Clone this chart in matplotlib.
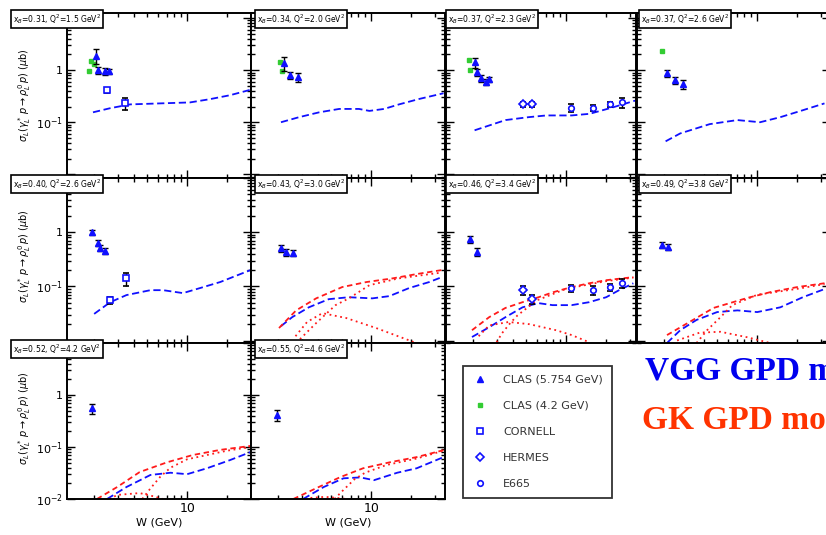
import matplotlib
matplotlib.use("Agg")
import matplotlib.pyplot as plt
from matplotlib.ticker import FuncFormatter, LogLocator, NullFormatter
from matplotlib.lines import Line2D

# ---------------- data ----------------
PANEL_LABELS = [
    "x$_B$=0.31, Q$^2$=1.5 GeV$^2$", "x$_B$=0.34, Q$^2$=2.0 GeV$^2$",
    "x$_B$=0.37, Q$^2$=2.3 GeV$^2$", "x$_B$=0.37, Q$^2$=2.6 GeV$^2$",
    "x$_B$=0.40, Q$^2$=2.6 GeV$^2$", "x$_B$=0.43, Q$^2$=3.0 GeV$^2$",
    "x$_B$=0.46, Q$^2$=3.4 GeV$^2$", "x$_B$=0.49, Q$^2$=3.8 GeV$^2$",
    "x$_B$=0.52, Q$^2$=4.2 GeV$^2$", "x$_B$=0.55, Q$^2$=4.6 GeV$^2$",
]

# VGG GPD model (blue dashed)
VGG_W = [
    [1.96, 2.64, 3.73, 6.27, 10.5, 14.8, 21, 31],
    [2.1, 2.87, 4.07, 5.75, 8.1, 9.7, 12.5, 16.2, 23, 35],
    [2.05, 3.5, 5.2, 7.1, 11, 15, 22, 33],
    [2.05, 2.64, 4.4, 7.1, 10.5, 14.9, 22, 32],
    [2.0, 2.64, 3.5, 5.3, 6.6, 9.3, 12.5, 17.7, 30],
    [2.1, 2.55, 3.4, 4.8, 6.8, 10.2, 13.7, 19.3, 27.3, 34],
    [1.96, 2.64, 3.5, 4.7, 6.2, 7.9, 11, 14.9, 20, 25, 32],
    [2.1, 2.64, 3.5, 5.0, 7.1, 10, 14.9, 22, 32],
    [2.5, 3.5, 5.3, 7.5, 10, 14.1, 21, 30],
    [3.08, 4.4, 6.2, 8.3, 10.5, 15.7, 22, 34],
]
VGG_S = [
    [0.155, 0.186, 0.22, 0.23, 0.24, 0.277, 0.33, 0.43],
    [0.1, 0.125, 0.155, 0.18, 0.18, 0.165, 0.18, 0.22, 0.28, 0.36],
    [0.07, 0.11, 0.125, 0.135, 0.135, 0.145, 0.19, 0.26],
    [0.043, 0.061, 0.092, 0.11, 0.1, 0.125, 0.17, 0.23],
    [0.031, 0.051, 0.069, 0.085, 0.085, 0.075, 0.093, 0.12, 0.2],
    [0.0184, 0.027, 0.041, 0.058, 0.063, 0.06, 0.066, 0.093, 0.12, 0.148],
    [0.0116, 0.0176, 0.027, 0.041, 0.049, 0.045, 0.045, 0.051, 0.063, 0.085, 0.114],
    [0.009, 0.0155, 0.024, 0.0335, 0.036, 0.0335, 0.041, 0.063, 0.089],
    [0.01, 0.017, 0.029, 0.032, 0.03, 0.039, 0.056, 0.08],
    [0.01, 0.017, 0.025, 0.026, 0.023, 0.032, 0.039, 0.062],
]

# GK GPD model (red): total, sea/gluon part, valence part  (panels 5..9 only)
GK_TOT_W = {5: [2.03, 2.73, 3.86, 6.06, 9.2, 14.4, 21.8, 34],
            6: [1.96, 2.64, 3.5, 4.7, 6.2, 8.0, 11, 14.9, 20, 32],
            7: [2.1, 3.0, 4.7, 8.4, 12.5, 20, 32],
            8: [2.1, 2.98, 4.4, 7.1, 11, 17.7, 30],
            9: [2.6, 3.9, 5.85, 8.7, 13.9, 22, 35]}
GK_TOT_S = {5: [0.017, 0.036, 0.06, 0.097, 0.12, 0.14, 0.168, 0.2],
            6: [0.0155, 0.027, 0.04, 0.051, 0.063, 0.078, 0.097, 0.114, 0.13, 0.148],
            7: [0.0126, 0.021, 0.04, 0.061, 0.078, 0.097, 0.114],
            8: [0.01, 0.017, 0.033, 0.051, 0.07, 0.088, 0.105],
            9: [0.01, 0.0163, 0.0263, 0.039, 0.051, 0.064, 0.087]}
GK_SEA_W = {5: [2.73, 3.86, 5.4, 6.8, 9.7, 16, 34],
            6: [3.0, 3.3, 3.8, 4.3, 6, 10, 20, 32],
            7: [3.5, 4.2, 5.3, 6.5, 10, 20, 32],
            8: [4.6, 5.3, 6.3, 7.5, 10, 20, 30],
            9: [5.3, 6.2, 7.5, 9, 13, 22, 35]}
GK_SEA_S = {5: [0.009, 0.021, 0.045, 0.06, 0.105, 0.14, 0.18],
            6: [0.0093, 0.0137, 0.021, 0.029, 0.055, 0.09, 0.125, 0.145],
            7: [0.009, 0.0155, 0.027, 0.045, 0.07, 0.09, 0.11],
            8: [0.01, 0.016, 0.027, 0.04, 0.058, 0.085, 0.1],
            9: [0.01, 0.015, 0.024, 0.032, 0.045, 0.06, 0.085]}
GK_VAL_W = {5: [2.7, 3.3, 4.3, 6.5, 10.9, 21.8, 30],
            6: [2.2, 2.64, 3.7, 5.3, 8.4, 11, 14.9],
            7: [2.5, 3.7, 5.3, 8.4, 12.5],
            8: [2.6, 3.0, 4.4, 5.8, 7.0],
            9: [3.5, 4.5, 5.5, 6.5]}
GK_VAL_S = {5: [0.012, 0.022, 0.032, 0.026, 0.017, 0.009, 0.007],
            6: [0.012, 0.019, 0.022, 0.02, 0.0155, 0.0126, 0.0093],
            7: [0.01, 0.014, 0.0145, 0.0115, 0.009],
            8: [0.01, 0.012, 0.013, 0.011, 0.0095],
            9: [0.0105, 0.011, 0.0105, 0.01]}

# CLAS 5.754 GeV
CLAS_W = {0: [2.05, 2.15, 2.4, 2.6], 1: [2.2, 2.47, 2.8],
          2: [2.05, 2.15, 2.3, 2.5, 2.65], 3: [2.1, 2.4, 2.75],
          4: [1.93, 2.15, 2.2, 2.4], 5: [2.1, 2.3, 2.6], 6: [1.9, 2.15],
          7: [1.93, 2.15], 8: [1.93], 9: [1.96]}
CLAS_S = {0: [1.9, 1.0, 0.95, 0.95], 1: [1.36, 0.8, 0.73],
          2: [1.42, 0.92, 0.7, 0.59, 0.67], 3: [0.87, 0.64, 0.54],
          4: [1.0, 0.63, 0.51, 0.45], 5: [0.51, 0.43, 0.41], 6: [0.74, 0.43],
          7: [0.58, 0.53], 8: [0.56], 9: [0.41]}
CLAS_E = {0: [0.6, 0.15, 0.15, 0.1], 1: [0.4, 0.12, 0.15],
          2: [0.3, 0.15, 0.1, 0.08, 0.08], 3: [0.12, 0.1, 0.1],
          4: [0.12, 0.08, 0.06, 0.06], 5: [0.08, 0.06, 0.05], 6: [0.1, 0.07],
          7: [0.08, 0.07], 8: [0.12], 9: [0.1]}
# CLAS 4.2 GeV
CLAS42_W = {0: [1.82, 1.88, 2.0], 1: [2.05, 2.15], 2: [1.85, 1.9], 3: [1.93]}
CLAS42_S = {0: [0.95, 1.5, 1.3], 1: [1.42, 0.96], 2: [1.56, 1.0], 3: [2.3]}
# CORNELL
CORNELL_W = {0: [2.5, 3.4], 4: [2.64, 3.5]}
CORNELL_S = {0: [0.41, 0.23], 4: [0.056, 0.14]}
CORNELL_E = {0: [0.04, 0.06], 4: [0.008, 0.04]}
# HERMES
HERMES_W = {2: [4.7, 5.55], 6: [4.7, 5.55]}
HERMES_S = {2: [0.22, 0.22], 6: [0.085, 0.058]}
HERMES_E = {2: [0.025, 0.025], 6: [0.015, 0.01]}
# E665
E665_W = {2: [10.9, 15.9, 21.4, 26.3], 6: [10.9, 15.9, 21.4, 26.3]}
E665_S = {2: [0.19, 0.19, 0.22, 0.24], 6: [0.093, 0.085, 0.097, 0.114]}
E665_E = {2: [0.03, 0.025, 0.02, 0.05], 6: [0.015, 0.015, 0.015, 0.02]}

LEGEND_LABELS = ["CLAS (5.754 GeV)", "CLAS (4.2 GeV)", "CORNELL", "HERMES", "E665"]

# ---------------- layout ----------------
FW, FH = 826, 535
COLS = [(67, 251), (251, 445), (446, 636), (637, 830)]
ROWS = [(13, 178), (178, 343), (343, 499)]
YLIMS = [(0.0085, 12.5), (0.009, 10), (0.01, 10)]
XMIN = 1.25
XMAX = [30.2, 35.9, 33.5, 35.2]
LABEL_BOX_X = [13, 257, 448, 641]
YLABEL_Y = [95, 256, 418]

BLUE = "#1010ff"
RED = "#ff1a1a"
GREEN = "#33cc33"

plt.rcParams["font.family"] = ["DejaVu Sans"]
fig = plt.figure(figsize=(FW / 100, FH / 100), dpi=100)

PANELS = [(0, 0), (0, 1), (0, 2), (0, 3), (1, 0), (1, 1), (1, 2), (1, 3), (2, 0), (2, 1)]


def yfmt_factory(row):
    def f(v, pos):
        if abs(v - 1) < 1e-9:
            return "1"
        if abs(v - 0.1) < 1e-12:
            return r"$10^{-1}$"
        if abs(v - 0.01) < 1e-12 and row == 2:
            return r"$10^{-2}$"
        return ""
    return f


for p, (r, c) in enumerate(PANELS):
    x0, x1 = COLS[c]
    y0, y1 = ROWS[r]
    ax = fig.add_axes([x0 / FW, 1 - y1 / FH, (x1 - x0) / FW, (y1 - y0) / FH])
    ax.set_xscale("log")
    ax.set_yscale("log")
    ax.set_xlim(XMIN, XMAX[c])
    ax.set_ylim(*YLIMS[r])
    for s in ax.spines.values():
        s.set_linewidth(1.4)
    ax.tick_params(which="both", direction="in", top=True, right=True, width=1.0)
    ax.tick_params(which="major", length=6)
    ax.tick_params(which="minor", length=3)
    ax.yaxis.set_major_locator(LogLocator(base=10, numticks=10))
    ax.yaxis.set_minor_locator(LogLocator(base=10, subs=range(2, 10), numticks=20))
    ax.yaxis.set_minor_formatter(NullFormatter())
    ax.xaxis.set_minor_formatter(NullFormatter())
    if c == 0:
        ax.yaxis.set_major_formatter(FuncFormatter(yfmt_factory(r)))
        ax.tick_params(axis="y", labelsize=8, pad=3)
    else:
        ax.set_yticklabels([])
    if r == 2:
        ax.xaxis.set_major_formatter(FuncFormatter(lambda v, pos: "10" if abs(v - 10) < 1e-9 else ""))
        ax.tick_params(axis="x", labelsize=9, pad=2)
        ax.set_xlabel("W (GeV)", fontsize=8, labelpad=2)
    else:
        ax.set_xticklabels([])

    # models
    ax.plot(VGG_W[p], VGG_S[p], color=BLUE, lw=1.3, ls=(0, (4, 2)))
    if p in GK_TOT_W:
        ax.plot(GK_TOT_W[p], GK_TOT_S[p], color=RED, lw=1.3, ls=(0, (3, 2)))
        ax.plot(GK_SEA_W[p], GK_SEA_S[p], color=RED, lw=1.3, ls=(0, (1, 2)))
        ax.plot(GK_VAL_W[p], GK_VAL_S[p], color=RED, lw=1.3, ls=(0, (1, 2)))

    # data
    if p in CLAS42_W:
        ax.plot(CLAS42_W[p], CLAS42_S[p], ls="none", marker="s", ms=3.5,
                mfc=GREEN, mec=GREEN)
    if p in CLAS_W:
        ax.errorbar(CLAS_W[p], CLAS_S[p], yerr=CLAS_E[p], fmt="^", ms=5,
                    mfc=BLUE, mec=BLUE, ecolor="black", elinewidth=1, capsize=2)
    if p in CORNELL_W:
        ax.errorbar(CORNELL_W[p], CORNELL_S[p], yerr=CORNELL_E[p], fmt="s", ms=4,
                    mfc="white", mec=BLUE, mew=1.2, ecolor="black", elinewidth=1, capsize=2)
    if p in HERMES_W:
        ax.errorbar(HERMES_W[p], HERMES_S[p], yerr=HERMES_E[p], fmt="D", ms=4,
                    mfc="white", mec=BLUE, mew=1.2, ecolor="black", elinewidth=1, capsize=2)
    if p in E665_W:
        ax.errorbar(E665_W[p], E665_S[p], yerr=E665_E[p], fmt="o", ms=4,
                    mfc="white", mec=BLUE, mew=1.2, ecolor="black", elinewidth=1, capsize=2)

    # panel label box
    fig.text(LABEL_BOX_X[c] / FW, 1 - (y0 + 6) / FH, PANEL_LABELS[p], fontsize=5.5,
             va="center", ha="left",
             bbox=dict(boxstyle="square,pad=0.25", fc="white", ec="black", lw=1.2))

for r in range(3):
    fig.text(25 / FW, 1 - YLABEL_Y[r] / FH,
             r"$\sigma_L(\gamma^*_L\,p \rightarrow \rho^0_L\,p)$ ($\mu$b)",
             rotation=90, fontsize=7, ha="center", va="center")

# legend
handles = [
    Line2D([], [], ls="none", marker="^", ms=4, mfc=BLUE, mec=BLUE),
    Line2D([], [], ls="none", marker="s", ms=3, mfc=GREEN, mec=GREEN),
    Line2D([], [], ls="none", marker="s", ms=4, mfc="white", mec=BLUE, mew=1.2),
    Line2D([], [], ls="none", marker="D", ms=4, mfc="white", mec=BLUE, mew=1.2),
    Line2D([], [], ls="none", marker="o", ms=4, mfc="white", mec=BLUE, mew=1.2),
]
leg = fig.legend(handles, LEGEND_LABELS, loc="upper left",
                 bbox_to_anchor=(463 / FW, 1 - 366 / FH), fontsize=8,
                 frameon=True, fancybox=False, edgecolor="black",
                 labelspacing=1.45, handletextpad=1.3, borderpad=0.8,
                 handlelength=1.5, borderaxespad=0)
leg.get_frame().set_linewidth(1.3)
for t in leg.get_texts():
    t.set_color("#333333")

fig.text(645 / FW, 1 - 380 / FH, "VGG GPD model", color="#0000ee", fontsize=24,
         fontweight="bold", family="Liberation Serif", va="baseline", ha="left")
fig.text(642 / FW, 1 - 429 / FH, "GK GPD model", color="#ff3300", fontsize=24,
         fontweight="bold", family="Liberation Serif", va="baseline", ha="left")

fig.savefig("out.png", dpi=100, facecolor="white")
